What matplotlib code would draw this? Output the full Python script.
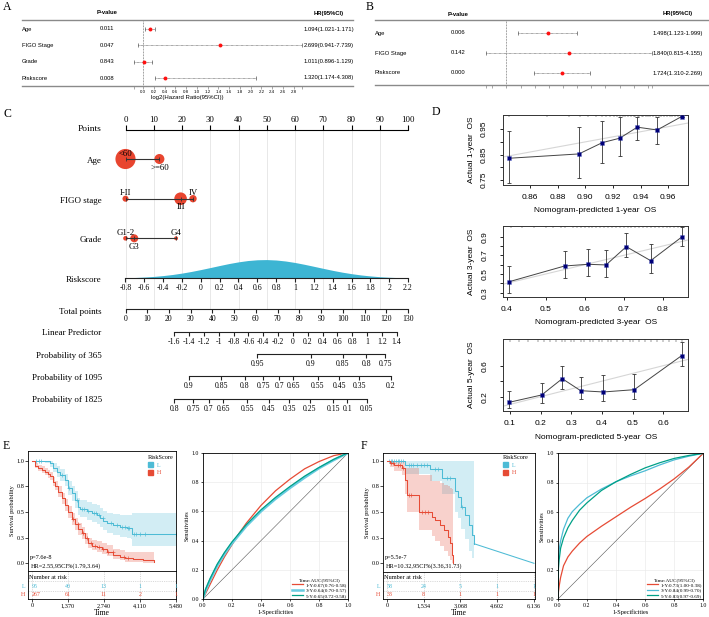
import numpy as np
import matplotlib
matplotlib.use('Agg')
import matplotlib.pyplot as plt
from matplotlib.patches import Patch

plt.rcParams['font.family'] = ['Liberation Sans', 'DejaVu Sans']
SERIF = ['Liberation Serif', 'DejaVu Serif']
SANS = ['Liberation Sans', 'DejaVu Sans']

# ---------------- data ----------------
# Panel A (univariate Cox)
A_vars = ['Age', 'FIGO Stage', 'Grade', 'Riskscore']
A_pval = ['0.011', '0.047', '0.843', '0.008']
A_hr = [1.094, 2.699, 1.011, 1.320]
A_lo = [1.021, 0.941, 0.896, 1.174]
A_hi = [1.171, 7.739, 1.129, 4.308]
A_ticks = [0.0, 0.2, 0.4, 0.6, 0.8, 1.0, 1.2, 1.4, 1.6, 1.8, 2.0, 2.2, 2.4, 2.6, 2.8]
A_ticklabels = ['0.0', '0.2', '0.4', '0.6', '0.8', '1.0', '1.2', '1.4', '1.6', '1.8',
                '2.0', '2.2', '2.4', '2.6', '2.8']
# Panel B (multivariate Cox)
B_vars = ['Age', 'FIGO Stage', 'Riskscore']
B_pval = ['0.006', '0.142', '0.000']
B_hr = [1.498, 1.840, 1.724]
B_lo = [1.123, 0.815, 1.310]
B_hi = [1.999, 4.155, 2.269]
B_ticks = [-0.2, 0.0, 0.2, 0.4, 0.6, 0.8, 1.0, 1.2, 1.4, 1.6, 1.8, 2.0]

# Panel C (nomogram)
POINTS_TICKS = [0, 10, 20, 30, 40, 50, 60, 70, 80, 90, 100]
AGE_LEVELS = ['<60', '>=60']
AGE_PTS = [0.0, 12.0]
FIGO_LEVELS = ['I-II', 'III', 'IV']
FIGO_PTS = [0.0, 19.5, 23.9]
GRADE_LEVELS = ['G1-2', 'G3', 'G4']
GRADE_PTS = [0.0, 3.1, 17.9]
RS_TICKS = [-0.8, -0.6, -0.4, -0.2, 0.0, 0.2, 0.4, 0.6, 0.8, 1.0, 1.2, 1.4, 1.6, 1.8, 2.0, 2.2]
RS_LABELS = ['-0.8', '-0.6', '-0.4', '-0.2', '0', '0.2', '0.4', '0.6', '0.8', '1', '1.2',
             '1.4', '1.6', '1.8', '2', '2.2']
RS_GRID = [-0.8, -0.7, -0.6, -0.5, -0.4, -0.3, -0.2, -0.1, 0.0, 0.1, 0.2, 0.3, 0.4, 0.5,
           0.6, 0.7, 0.8, 0.9, 1.0, 1.1, 1.2, 1.3, 1.4, 1.5, 1.6, 1.7, 1.8, 1.9, 2.0, 2.1, 2.2]
RS_DENS = [0.027, 0.043, 0.067, 0.100, 0.145, 0.204, 0.278, 0.366, 0.466, 0.573, 0.683,
           0.788, 0.878, 0.948, 0.989, 0.999, 0.976, 0.923, 0.844, 0.747, 0.640, 0.530,
           0.424, 0.329, 0.247, 0.179, 0.126, 0.085, 0.056, 0.036, 0.022]
TOTAL_TICKS = [0, 10, 20, 30, 40, 50, 60, 70, 80, 90, 100, 110, 120, 130]
LP_TICKS = [-1.6, -1.4, -1.2, -1.0, -0.8, -0.6, -0.4, -0.2, 0.0, 0.2, 0.4, 0.6, 0.8, 1.0, 1.2, 1.4]
LP_LABELS = ['-1.6', '-1.4', '-1.2', '-1', '-0.8', '-0.6', '-0.4', '-0.2', '0', '0.2', '0.4',
             '0.6', '0.8', '1', '1.2', '1.4']
LP_TOTAL_AT_ENDS = (22.46, 124.76)      # total points at LP = -1.6 and LP = 1.4
P365_LABELS = ['0.95', '0.9', '0.85', '0.8', '0.75']
P365_TOTAL = [60.7, 85.2, 100.0, 110.8, 119.5]
P1095_LABELS = ['0.9', '0.85', '0.8', '0.75', '0.7', '0.65', '0.55', '0.45', '0.35', '0.2']
P1095_TOTAL = [29.2, 44.0, 54.8, 63.5, 70.8, 77.3, 88.4, 98.3, 107.6, 122.2]
P1825_LABELS = ['0.8', '0.75', '0.7', '0.65', '0.55', '0.45', '0.35', '0.25', '0.15', '0.1', '0.05']
P1825_TOTAL = [22.46, 31.1, 38.4, 44.9, 56.1, 65.9, 75.3, 84.7, 95.6, 102.1, 111.0]

# Panel D (calibration)
D1_x = [0.845, 0.8954, 0.9123, 0.9249, 0.9376, 0.9520, 0.9697]
D1_y = [0.8355, 0.8525, 0.897, 0.9145, 0.958, 0.947, 1.0]
D1_lo = [0.739, 0.7566, 0.818, 0.844, 0.908, 0.891, 1.0]
D1_hi = [0.9445, 0.958, 0.984, 0.997, 1.0, 1.0, 1.0]
D1_rug = [0.845, 0.872, 0.888, 0.896, 0.902, 0.908, 0.912, 0.915, 0.918, 0.921, 0.923, 0.925,
          0.927, 0.929, 0.931, 0.933, 0.935, 0.936, 0.938, 0.939, 0.941, 0.942, 0.944, 0.945,
          0.947, 0.949, 0.951, 0.953, 0.955, 0.957, 0.959, 0.961, 0.963, 0.965, 0.967, 0.969, 0.971]
D2_x = [0.4067, 0.5487, 0.6085, 0.6546, 0.7067, 0.7692, 0.85]
D2_y = [0.4177, 0.586, 0.604, 0.597, 0.793, 0.643, 0.9]
D2_lo = [0.293, 0.454, 0.479, 0.471, 0.679, 0.508, 0.804]
D2_hi = [0.586, 0.747, 0.768, 0.761, 0.936, 0.822, 1.0]
D2_rug = [0.41, 0.44, 0.47, 0.50, 0.52, 0.54, 0.55, 0.57, 0.58, 0.59, 0.60, 0.61, 0.62, 0.63,
          0.64, 0.65, 0.66, 0.67, 0.68, 0.69, 0.70, 0.71, 0.72, 0.73, 0.74, 0.75, 0.76, 0.77,
          0.78, 0.79, 0.80, 0.81, 0.82, 0.83, 0.84, 0.85]
D3_x = [0.0978, 0.2034, 0.2705, 0.3305, 0.4042, 0.5053, 0.6598]
D3_y = [0.1277, 0.222, 0.432, 0.277, 0.2606, 0.29, 0.729]
D3_lo = [0.05, 0.115, 0.295, 0.17, 0.144, 0.166, 0.6]
D3_hi = [0.277, 0.381, 0.6, 0.45, 0.476, 0.497, 0.902]
D3_rug = [0.10, 0.13, 0.16, 0.19, 0.21, 0.23, 0.25, 0.27, 0.28, 0.30, 0.31, 0.33, 0.34, 0.36,
          0.37, 0.39, 0.40, 0.42, 0.43, 0.45, 0.47, 0.49, 0.50, 0.52, 0.54, 0.56, 0.58, 0.60,
          0.62, 0.64, 0.66]

# Panel E (KM, training)
E_L_t = [0, 496, 686, 813, 940, 1068, 1258, 1385, 1512, 1640, 1766, 1830, 2084, 2275, 2466,
         2593, 2720, 2847, 3101, 3355, 3609, 3762, 3813, 5480]
E_L_s = [1.0, 1.0, 0.974, 0.931, 0.892, 0.86, 0.811, 0.73, 0.682, 0.617, 0.552, 0.53, 0.51,
         0.487, 0.471, 0.445, 0.412, 0.39, 0.373, 0.357, 0.347, 0.341, 0.282, 0.282]
E_L_lo = [1.0, 0.98, 0.94, 0.89, 0.845, 0.805, 0.75, 0.665, 0.61, 0.54, 0.47, 0.45, 0.425,
          0.40, 0.385, 0.355, 0.32, 0.30, 0.28, 0.26, 0.25, 0.24, 0.165, 0.165]
E_L_hi = [1.0, 1.0, 1.0, 0.975, 0.945, 0.915, 0.875, 0.80, 0.755, 0.70, 0.64, 0.62, 0.60,
          0.58, 0.565, 0.54, 0.51, 0.495, 0.48, 0.475, 0.47, 0.47, 0.49, 0.49]
E_L_cens = [150, 250, 350, 1150, 1420, 1700, 1900, 2000, 2150, 2350, 2450, 2550, 2700, 3000,
            3250, 3450, 3550, 3650, 3700, 3880, 3950, 4100, 4300, 5480]
E_H_t = [0, 114, 241, 368, 496, 623, 686, 813, 877, 1004, 1131, 1258, 1385, 1512, 1640, 1766,
         1893, 2021, 2148, 2275, 2466, 2657, 2847, 3101, 3355, 3546, 3864, 4245, 4664]
E_H_s = [1.0, 0.952, 0.93, 0.913, 0.894, 0.87, 0.85, 0.795, 0.756, 0.698, 0.633, 0.568, 0.497,
         0.432, 0.38, 0.334, 0.292, 0.243, 0.194, 0.172, 0.162, 0.139, 0.113, 0.081, 0.065,
         0.048, 0.039, 0.029, 0.016]
E_H_lo = [1.0, 0.93, 0.90, 0.88, 0.86, 0.83, 0.81, 0.75, 0.71, 0.645, 0.58, 0.51, 0.44, 0.375,
          0.325, 0.28, 0.24, 0.19, 0.145, 0.125, 0.115, 0.09, 0.07, 0.04, 0.03, 0.015, 0.01,
          0.005, 0.0]
E_H_hi = [1.0, 0.975, 0.96, 0.945, 0.93, 0.91, 0.89, 0.84, 0.805, 0.75, 0.69, 0.625, 0.555,
          0.49, 0.44, 0.39, 0.35, 0.30, 0.25, 0.23, 0.22, 0.20, 0.175, 0.14, 0.125, 0.11,
          0.11, 0.11, 0.11]
E_H_cens = [1560, 1750, 1950, 2100, 2250, 2400, 2550, 2700, 2900, 3100, 3500, 3650]
E_xticks = [0, 1370, 2740, 4110, 5480]
E_xticklabels = ['0', '1,370', '2,740', '4,110', '5,480']
E_risk_L = [95, 40, 13, 1, 1]
E_risk_H = [267, 61, 11, 2, 1]
E_ptext = 'p=7.6e-8'
E_hrtext = 'HR=2.55,95CI%(1.79,3.64)'

# Panel F (KM, validation)
F_L_t = [0, 751, 1795, 2310, 2838, 2950, 3089, 3250, 3423, 3550, 3645]
F_L_s = [1.0, 0.957, 0.918, 0.828, 0.70, 0.65, 0.552, 0.47, 0.373, 0.28, 0.19]
F_L_lo = [1.0, 0.87, 0.80, 0.68, 0.50, 0.44, 0.33, 0.24, 0.12, 0.05, 0.0]
F_L_hi = [1.0, 1.0, 1.0, 1.0, 1.0, 1.0, 1.0, 1.0, 1.0, 1.0, 1.0]
F_L_tail_t = [3645, 6136]
F_L_tail_s = [0.19, 0.0]
F_L_cens = [80, 150, 230, 300, 380, 450, 520, 600, 680, 900, 1000, 1100, 1250, 1400, 1550,
            1650, 2000, 2150, 2500, 2650, 3150]
F_H_t = [0, 125, 306, 613, 751, 835, 1336, 1864, 2003, 2212, 2393, 2532, 2629, 2700, 2741]
F_H_s = [1.0, 0.98, 0.957, 0.931, 0.81, 0.665, 0.497, 0.455, 0.42, 0.373, 0.325, 0.26,
         0.194, 0.08, 0.0]
F_H_lo = [1.0, 0.94, 0.90, 0.86, 0.68, 0.50, 0.32, 0.27, 0.22, 0.17, 0.12, 0.07, 0.03, 0.0, 0.0]
F_H_hi = [1.0, 1.0, 1.0, 1.0, 0.925, 0.925, 0.86, 0.80, 0.80, 0.78, 0.76, 0.75, 0.73, 0.72, 0.72]
F_H_cens = [150, 250, 450, 550, 650, 900, 1000, 1450, 1600, 1700]
F_xticks = [0, 1534, 3068, 4602, 6136]
F_xticklabels = ['0', '1,534', '3,068', '4,602', '6,136']
F_risk_L = [58, 24, 5, 1, 1]
F_risk_H = [33, 8, 1, 1, 1]
F_ptext = 'p=5.5e-7'
F_hrtext = 'HR=10.32,95CI%(3.36,31.73)'

# ROC curves
E_fpr = [0, 0.02, 0.05, 0.1, 0.15, 0.2, 0.25, 0.3, 0.4, 0.5, 0.6, 0.7, 0.8, 0.9, 1.0]
E_tpr_1y = [0, 0.04, 0.10, 0.20, 0.29, 0.37, 0.45, 0.52, 0.64, 0.74, 0.82, 0.89, 0.94, 0.98, 1.0]
E_tpr_3y = [0, 0.06, 0.13, 0.23, 0.31, 0.38, 0.44, 0.50, 0.60, 0.685, 0.76, 0.83, 0.895, 0.95, 1.0]
E_tpr_5y = [0, 0.07, 0.14, 0.24, 0.32, 0.39, 0.45, 0.51, 0.61, 0.695, 0.77, 0.84, 0.90, 0.955, 1.0]
E_roc_labels = ['1-Y:0.67(0.76-0.58)', '3-Y:0.64(0.70-0.57)', '5-Y:0.65(0.72-0.58)']
F_fpr = [0, 0.005, 0.01, 0.02, 0.04, 0.07, 0.1, 0.15, 0.2, 0.3, 0.4, 0.5, 0.6, 0.7, 0.8, 0.9, 1.0]
F_tpr_1y = [0, 0.05, 0.09, 0.15, 0.23, 0.29, 0.33, 0.385, 0.43, 0.50, 0.565, 0.63, 0.69,
            0.755, 0.825, 0.905, 1.0]
F_tpr_3y = [0, 0.28, 0.34, 0.40, 0.48, 0.555, 0.60, 0.65, 0.695, 0.755, 0.805, 0.845, 0.88,
            0.92, 0.955, 0.98, 1.0]
F_tpr_5y = [0, 0.21, 0.27, 0.35, 0.42, 0.49, 0.54, 0.61, 0.66, 0.745, 0.805, 0.855, 0.90,
            0.935, 0.965, 0.985, 1.0]
F_roc_labels = ['1-Y:0.73(1.00-0.38)', '3-Y:0.84(0.99-0.70)', '5-Y:0.83(0.97-0.69)']

C_RED = '#E64B35'
C_CYAN = '#4DBBD5'
C_TEAL = '#00A087'

# ---------------- figure helpers ----------------
W, H = 709, 617
fig = plt.figure(figsize=(W / 100, H / 100), dpi=100)


def box(x0, y0, x1, y1):
    return fig.add_axes([x0 / W, 1 - y1 / H, (x1 - x0) / W, (y1 - y0) / H])


def ftext(x, y, s, **kw):
    kw.setdefault('va', 'center')
    return fig.text(x / W, 1 - y / H, s, **kw)


for lab, (x, y) in zip('ABCDEF', [(3, 7), (366, 7), (3, 114), (432, 112), (3, 446), (361, 446)]):
    ftext(x, y, lab, family=SERIF, fontsize=8.5, ha='left')


# ---------------- A / B forest plots ----------------
def forest(x0, x1, ytop, ybot, zero_px, ppu, row_y, names, pvals, hr, lo, hi,
           name_x, p_x, hr_x, hdr_y, ticks, ticklabels, xlabel=None):
    ax = box(x0, ytop, x1, ybot)
    ax.set_xlim((x0 - zero_px) / ppu, (x1 - zero_px) / ppu)
    ax.set_ylim(ybot, ytop)
    ax.patch.set_alpha(0)
    for s in ['left', 'right']:
        ax.spines[s].set_visible(False)
    for s in ['top', 'bottom']:
        ax.spines[s].set_color('#8a8a8a')
        ax.spines[s].set_linewidth(1.0)
    ax.set_yticks([])
    l2 = np.log2(hr)
    l2lo = np.log2(lo)
    l2hi = np.log2(hi)
    ax.axvline(0, color='#444444', lw=0.5, ls=(0, (1, 1.2)), zorder=1)
    ax.hlines(row_y, l2lo, l2hi, colors='#555555', lw=0.5, linestyles=(0, (1, 0.8)), zorder=2)
    ax.plot(l2lo, row_y, ls='none', marker='|', color='#555555', ms=3, mew=0.5)
    ax.plot(l2hi, row_y, ls='none', marker='|', color='#555555', ms=3, mew=0.5)
    ax.plot(l2, row_y, ls='none', marker='o', color='#FF1010', ms=2.8, mec='none', zorder=3)
    allt = [l2lo.min()] + list(ticks) + [l2hi.max()]
    alll = [''] + list(ticklabels) + ['']
    ax.set_xticks(allt, alll)
    ax.tick_params(axis='x', length=2, width=0.4, pad=0.8, labelsize=3.2, color='#666666')
    if xlabel:
        ax.set_xlabel(xlabel, fontsize=4.3, labelpad=1)
    for y, n, p, h, a, b in zip(row_y, names, pvals, hr, lo, hi):
        ftext(name_x, y, n, ha='left', fontsize=4.2)
        ftext(p_x, y, p, ha='center', fontsize=4.2)
        ftext(hr_x, y, f'{h:.3f}({a:.3f}-{b:.3f})', ha='center', fontsize=4.2)
    ftext(p_x, hdr_y, 'P-value', ha='center', fontsize=4.2, fontweight='bold')
    ftext(hr_x, hdr_y, 'HR(95%CI)', ha='center', fontsize=4.2, fontweight='bold')
    return ax


forest(22, 353, 20, 86, 143.0, 53.8, [29, 45.3, 61.7, 78], A_vars, A_pval, A_hr, A_lo, A_hi,
       22, 107, 329, 13, A_ticks, A_ticklabels, xlabel='log2(Hazard Ratio(95%CI))')
forest(375, 709, 20, 85, 506.5, 70.7, [33, 53, 73], B_vars, B_pval, B_hr, B_lo, B_hi,
       375, 458, 678, 14, B_ticks, [''] * len(B_ticks))

# ---------------- C nomogram ----------------
NP0, NP1 = 125.5, 408.0
LABX = 101.7
axC = box(NP0, 115, NP1, 420)
axC.set_xlim(0, 100)
axC.set_ylim(420, 115)
axC.axis('off')
axC.vlines(POINTS_TICKS, 130, 309.3, colors='#E4E4E4', lw=0.6, zorder=0)

cat_rows = [
    ('Age', AGE_LEVELS, AGE_PTS, [210, 52], ['above', 'below'], 159.0, 161.0, (-5.5, 8.5)),
    ('FIGO stage', FIGO_LEVELS, FIGO_PTS, [19, 82, 28], ['above', 'below', 'above'], 198.7, 200.7, (-6.0, 8.6)),
    ('Grade', GRADE_LEVELS, GRADE_PTS, [11, 33, 8], ['above', 'below', 'above'], 238.3, 240.0, (-5.0, 9.0)),
]
for name, levels, pts, sizes, pos, yline, ylab, offs in cat_rows:
    yy = [yline] * len(pts)
    axC.scatter(pts, yy, s=sizes, color='#E8452F', edgecolor='none', zorder=3, clip_on=False)
    axC.plot([min(pts), max(pts)], [yline, yline], color='#333333', lw=0.8, zorder=4)
    axC.plot(pts, yy, ls='none', marker='|', ms=2.2, mew=0.6, color='#333333', zorder=5)
    for lev, p, side in zip(levels, pts, pos):
        axC.text(p, yline + (offs[0] if side == 'above' else offs[1]), lev, ha='center',
                 va='center', family=SERIF, fontsize=6.3, zorder=6, clip_on=False)
    ftext(LABX, ylab, name, ha='right', family=SERIF, fontsize=6.5)

# Points axis (labels on top)
axPts = box(NP0, 130, NP1, 132)
axPts.set_xlim(0, 100)
axPts.patch.set_alpha(0)
for s in ['left', 'right', 'bottom']:
    axPts.spines[s].set_visible(False)
axPts.spines['top'].set_linewidth(0.8)
axPts.xaxis.tick_top()
axPts.set_xticks(POINTS_TICKS, [str(v) for v in POINTS_TICKS], family=SERIF, fontsize=6.3)
axPts.tick_params(axis='x', length=3.5, width=0.8, pad=1.0)
axPts.set_yticks([])
ftext(LABX, 129, 'Points', ha='right', family=SERIF, fontsize=6.8)


def scale_row(ytop, yline, xlim, ticks, labels, name, ylab):
    ax = box(NP0, ytop, NP1, yline)
    ax.set_xlim(*xlim)
    ax.set_ylim(0, 1)
    ax.patch.set_alpha(0)
    for s in ['left', 'right', 'top']:
        ax.spines[s].set_visible(False)
    ax.spines['bottom'].set_bounds(min(ticks), max(ticks))
    ax.spines['bottom'].set_linewidth(0.8)
    ax.spines['bottom'].set_color('#222222')
    ax.set_yticks([])
    ax.set_xticks(ticks, labels, family=SERIF, fontsize=5.6)
    ax.tick_params(axis='x', length=3, width=0.8, pad=1.2, color='#222222')
    ftext(LABX, ylab, name, ha='right', family=SERIF, fontsize=6.5)
    return ax


axRS = scale_row(259, 278.3, (-0.8, 2.2), RS_TICKS, RS_LABELS, 'Riskscore', 280)
axRS.set_ylim(0, 1.03)
axRS.fill_between(RS_GRID, 0, RS_DENS, color='#3DB5D3', lw=0, zorder=1)

scale_row(307.3, 309.3, (0, 130), TOTAL_TICKS, [str(v) for v in TOTAL_TICKS], 'Total points', 311.7)
lp_k = (LP_TOTAL_AT_ENDS[1] - LP_TOTAL_AT_ENDS[0]) / (LP_TICKS[-1] - LP_TICKS[0])
lp_xlim = (LP_TICKS[0] - LP_TOTAL_AT_ENDS[0] / lp_k, LP_TICKS[0] + (130 - LP_TOTAL_AT_ENDS[0]) / lp_k)
scale_row(330.3, 332.3, lp_xlim, LP_TICKS, LP_LABELS, 'Linear Predictor', 333.3)
scale_row(352.0, 354.0, (0, 130), P365_TOTAL, P365_LABELS, 'Probability of 365', 356)
scale_row(374.3, 376.3, (0, 130), P1095_TOTAL, P1095_LABELS, 'Probability of 1095', 377.7)
scale_row(397.0, 399.0, (0, 130), P1825_TOTAL, P1825_LABELS, 'Probability of 1825', 400)


# ---------------- D calibration ----------------
def calib(bx, xlim, ylim, xt, xtl, yt, ytl, px, py, plo, phi, rug, xlabel, ylabel, xlab_y, ylab_x):
    x0, y0, x1, y1 = bx
    ax = box(x0, y0, x1, y1)
    ax.set_xlim(*xlim)
    ax.set_ylim(*ylim)
    for s in ax.spines.values():
        s.set_linewidth(0.7)
        s.set_color('#333333')
    ax.axline((0, 0), (1, 1), color='#D6D6D6', lw=0.8, zorder=1)
    ax.vlines(px, plo, phi, colors='#333333', lw=0.6, zorder=2)
    ax.plot(px, plo, ls='none', marker='_', ms=3, mew=0.6, color='#333333', zorder=2)
    ax.plot(px, phi, ls='none', marker='_', ms=3, mew=0.6, color='#333333', zorder=2)
    ax.plot(px, py, '-', color='#444444', lw=0.7, zorder=3)
    ax.plot(px, py, ls='none', marker='x', ms=3, mew=0.6, color='#7B9BFF', zorder=4)
    ax.plot(px, py, ls='none', marker='s', ms=2.3, color='#00007A', mec='none', zorder=5)
    yr = ylim[1] - ylim[0]
    ax.vlines(rug, ylim[1] - 0.035 * yr, ylim[1], colors='#333333', lw=0.35, zorder=2)
    ax.set_xticks(xt, xtl, fontsize=6)
    ax.set_yticks(yt, ytl, fontsize=6, rotation=90, va='center')
    ax.tick_params(axis='x', length=2.4, width=0.6, pad=4.0)
    ax.tick_params(axis='y', length=2.4, width=0.6, pad=8.5)
    ax.set_xlabel(xlabel, fontsize=6, va='center')
    ax.set_ylabel(ylabel, fontsize=6, va='center')
    ax.xaxis.set_label_coords(0.5, -(xlab_y - y1) / (y1 - y0))
    ax.yaxis.set_label_coords(-(x0 - ylab_x) / (x1 - x0), 0.5)
    return ax


calib((502.7, 115, 688.3, 185), (0.8403, 0.9745), (0.730, 1.006),
      [0.86, 0.88, 0.90, 0.92, 0.94, 0.96], ['0.86', '0.88', '0.90', '0.92', '0.94', '0.96'],
      [0.75, 0.80, 0.85, 0.90, 0.95], ['0.75', '', '0.85', '', '0.95'],
      D1_x, D1_y, D1_lo, D1_hi, D1_rug, 'Nomogram-predicted 1-year  OS', 'Actual 1-year  OS',
      210, 471.7)
calib((503.3, 226, 688.3, 297.3), (0.3913, 0.8657), (0.25, 1.0147),
      [0.4, 0.5, 0.6, 0.7, 0.8], ['0.4', '0.5', '0.6', '0.7', '0.8'],
      [0.3, 0.4, 0.5, 0.6, 0.7, 0.8, 0.9], ['0.3', '', '0.5', '', '0.7', '', '0.9'],
      D2_x, D2_y, D2_lo, D2_hi, D2_rug, 'Nomogram-predicted 3-year  OS', 'Actual 3-year  OS',
      322.7, 471.7)
calib((503.3, 339.3, 688.3, 410.7), (0.0782, 0.6816), (0.019, 0.94),
      [0.1, 0.2, 0.3, 0.4, 0.5, 0.6], ['0.1', '0.2', '0.3', '0.4', '0.5', '0.6'],
      [0.2, 0.4, 0.6], ['0.2', '', '0.6'],
      D3_x, D3_y, D3_lo, D3_hi, D3_rug, 'Nomogram-predicted 5-year  OS', 'Actual 5-year  OS',
      437.7, 471.7)


# ---------------- E / F Kaplan-Meier ----------------
def step_value(t, s, c):
    i = np.searchsorted(np.asarray(t), c, side='right') - 1
    return np.asarray(s)[i]


def km_panel(x0, x1, ytop, ysep, ybot, y1px, y0px, xlim, xticks, xticklabels, groups,
             risk_L, risk_H, ptext, hrtext, ylab_x, leg_xy, rowlab_x, tail=None):
    ax = box(x0, ytop, x1, ysep)
    ppu = (y0px - y1px)
    ax.set_xlim(*xlim)
    ax.set_ylim(-(ysep - y0px) / ppu, 1 + (y1px - ytop) / ppu)
    for s in ax.spines.values():
        s.set_linewidth(0.6)
    for t, s, lo, hi, cens, c in groups:
        ax.fill_between(t, lo, hi, step='post', color=c, alpha=0.25, lw=0)
        ax.step(t, s, where='post', color=c, lw=0.75)
        cs = [step_value(t, s, v) for v in cens]
        ax.plot(cens, cs, ls='none', marker='+', ms=2.6, mew=0.45, color=c)
    if tail is not None:
        ax.plot(tail[0], tail[1], color=tail[2], lw=0.75)
    ax.set_xticks([])
    ax.set_yticks([0, 0.25, 0.5, 0.75, 1.0], ['0.0', '0.3', '0.5', '0.8', '1.0'],
                  family=SERIF, fontsize=4.5)
    ax.tick_params(axis='y', length=2, width=0.5, pad=1)
    ax.set_ylabel('Survival probability', family=SERIF, fontsize=4.5)
    ax.yaxis.set_label_coords(-(x0 - ylab_x) / (x1 - x0), 0.5)
    ftext(x0 + 2, 557.3, ptext, ha='left', family=SERIF, fontsize=4.5)
    ftext(x0 + 2, 566.0, hrtext, ha='left', family=SERIF, fontsize=4.5)
    leg = ax.legend(handles=[Patch(color=C_CYAN), Patch(color=C_RED)], labels=['L', 'H'],
                    title='RiskScore', frameon=False, fontsize=4.3, title_fontsize=4.5,
                    loc='upper left', bbox_to_anchor=(leg_xy[0] / W, 1 - leg_xy[1] / H),
                    bbox_transform=fig.transFigure, borderpad=0, borderaxespad=0,
                    handlelength=0.9, handleheight=0.9, handletextpad=0.6, labelspacing=0.35,
                    alignment='left', prop={'family': SERIF, 'size': 4.3})
    leg.get_title().set_family(SERIF)
    for txt, c in zip(leg.get_texts(), [C_CYAN, C_RED]):
        txt.set_color(c)

    at = box(x0, ysep, x1, ybot)
    at.set_xlim(*xlim)
    at.set_ylim(ybot, ysep)
    for s in at.spines.values():
        s.set_linewidth(0.6)
    at.vlines(xticks, ysep, ybot, colors='#BBBBBB', lw=0.4, linestyles=(0, (2, 2)))
    at.hlines([581.3, 590.5], xlim[0], xlim[1], colors='#BBBBBB', lw=0.4, linestyles=(0, (2, 2)))
    at.set_yticks([])
    at.set_xticks(xticks, xticklabels, family=SERIF, fontsize=4.5)
    at.tick_params(axis='x', length=2, width=0.5, pad=1)
    at.set_xlabel('Time', family=SERIF, fontsize=5.5, labelpad=0.5)
    ftext(x0 + 1, 577.7, 'Number at risk', ha='left', family=SERIF, fontsize=4.5)
    for vals, yrow, c in [(risk_L, 586.3, C_CYAN), (risk_H, 594.7, C_RED)]:
        for tx, v in zip(xticks, vals):
            at.text(tx, yrow, str(v), ha='left' if tx == xticks[0] else 'center', va='center',
                    color=c, family=SERIF, fontsize=4.3)
    ftext(rowlab_x, 586.3, 'L', ha='right', color=C_CYAN, family=SERIF, fontsize=4.3)
    ftext(rowlab_x, 594.7, 'H', ha='right', color=C_RED, family=SERIF, fontsize=4.3)
    return ax


km_panel(28.3, 176.0, 451, 570.7, 599, 460.7, 563.3, (-141, 5491), E_xticks, E_xticklabels,
         [(E_L_t, E_L_s, E_L_lo, E_L_hi, E_L_cens, C_CYAN),
          (E_H_t, E_H_s, E_H_lo, E_H_hi, E_H_cens, C_RED)],
         E_risk_L, E_risk_H, E_ptext, E_hrtext, 15, (147.5, 455), 25.5)
km_panel(383.3, 535.0, 453.3, 571.7, 599, 460.7, 563.3, (-154, 6178), F_xticks, F_xticklabels,
         [(F_L_t, F_L_s, F_L_lo, F_L_hi, F_L_cens, C_CYAN),
          (F_H_t, F_H_s, F_H_lo, F_H_hi, F_H_cens, C_RED)],
         F_risk_L, F_risk_H, F_ptext, F_hrtext, 370, (502.5, 455), 380.5,
         tail=(F_L_tail_t, F_L_tail_s, C_CYAN))


# ---------------- ROC ----------------
def roc_panel(bx, fpr, curves, labels, ylab_x):
    x0, y0, x1, y1 = bx
    ax = box(x0, y0, x1, y1)
    ax.set_xlim(0, 1)
    ax.set_ylim(0, 1)
    for s in ax.spines.values():
        s.set_linewidth(0.6)
    ticks = [0, 0.2, 0.4, 0.6, 0.8, 1.0]
    tl = ['0.0', '0.2', '0.4', '0.6', '0.8', '1.0']
    ax.set_xticks(ticks, tl, family=SERIF, fontsize=4.2)
    ax.set_yticks(ticks, tl, family=SERIF, fontsize=4.2)
    ax.tick_params(length=1.5, width=0.5, pad=1)
    ax.grid(True, color='#EBEBEB', lw=0.5)
    ax.set_axisbelow(True)
    ax.plot([0, 1], [0, 1], color='#555555', lw=0.4)
    for (tpr, c, lw), lab in zip(curves, labels):
        ax.plot(fpr, tpr, color=c, lw=lw, label=lab)
    ax.set_xlabel('1-Specificities', family=SERIF, fontsize=4.5, labelpad=1)
    ax.set_ylabel('Sensitivities', family=SERIF, fontsize=4.5)
    ax.yaxis.set_label_coords(-(x0 - ylab_x) / (x1 - x0), 0.5)
    leg = ax.legend(loc='lower right', frameon=False, title='Time:AUC(95%CI)',
                    prop={'family': SERIF, 'size': 3.7}, title_fontsize=3.8,
                    handlelength=2.2, labelspacing=0.15, borderaxespad=0.2, borderpad=0.1,
                    handletextpad=0.4)
    leg.get_title().set_family(SERIF)
    return ax


roc_panel((202.7, 452.7, 348.3, 599.3), E_fpr,
          [(E_tpr_1y, C_RED, 0.9), (E_tpr_3y, '#67CBE0', 1.8), (E_tpr_5y, C_TEAL, 0.9)],
          E_roc_labels, 190)
roc_panel((557.7, 453.3, 703.3, 599.3), F_fpr,
          [(F_tpr_1y, C_RED, 0.9), (F_tpr_3y, C_CYAN, 0.9), (F_tpr_5y, C_TEAL, 0.9)],
          F_roc_labels, 545)

fig.savefig('out.png', dpi=100)
